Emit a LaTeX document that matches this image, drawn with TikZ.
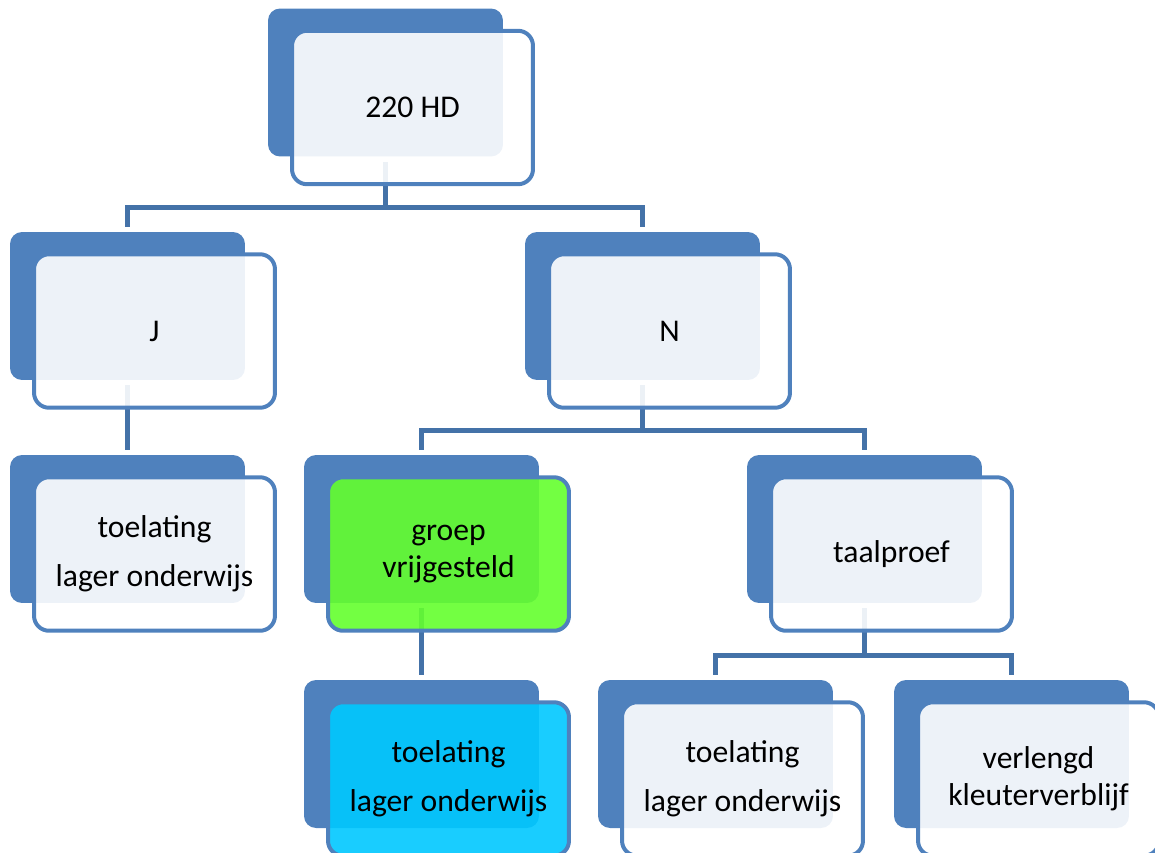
\documentclass[tikz,border=0pt]{standalone}
\usepackage{fontspec}
\setmainfont{Carlito}
\usepackage{xcolor}
\usetikzlibrary{backgrounds}

\definecolor{boxblue}{RGB}{79,129,189}
\definecolor{linkblue}{RGB}{68,114,168}
\definecolor{greenfill}{RGB}{100,255,45}
\definecolor{cyanfill}{RGB}{0,200,255}

\begin{document}
\begin{tikzpicture}[
    x=0.02cm, y=-0.02cm,
    backbox/.style={
        fill=boxblue,
        rounded corners=0.24cm,
        minimum width=4.7cm,
        minimum height=2.96cm,
        inner sep=0pt
    },
    frontbox/.style={
        draw=boxblue,
        fill=white,
        fill opacity=0.9,
        text opacity=1,
        line width=0.08cm,
        rounded corners=0.3cm,
        minimum width=4.82cm,
        minimum height=3.07cm,
        shift={(27,25)},
        align=center,
        font=\fontsize{18}{21}\selectfont
    },
    link/.style={draw=linkblue, line width=0.1cm}
]

\useasboundingbox (0,0) rectangle (1155,852);
\clip (0,0) rectangle (1155,852);

\coordinate (bus1) at (0,207);
\coordinate (bus2) at (0,430);
\coordinate (bus3) at (0,655);

\node[backbox] (hdback) at (385.5,82.5) {};
\node[frontbox] (hd) at (hdback) {220 HD};

\node[backbox] (jback) at (127.5,306) {};
\node[frontbox] (j) at (jback) {J};

\node[backbox] (nback) at (642.5,306) {};
\node[frontbox] (n) at (nback) {N};

\node[backbox] (lowback) at (127.5,529) {};
\node[frontbox] (low) at (lowback) {toelating\\[6.9pt]lager onderwijs};

\node[backbox] (groepback) at (421.5,529) {};
\node[frontbox, fill=greenfill] (groep) at (groepback) {groep\\vrijgesteld};

\node[backbox] (taalback) at (864.5,529) {};
\node[frontbox] (taal) at (taalback) {taalproef};

\node[backbox] (lowbback) at (421.5,754) {};
\node[frontbox, fill=cyanfill] (lowb) at (lowbback) {toelating\\[6.9pt]lager onderwijs};

\node[backbox] (lowcback) at (715.5,754) {};
\node[frontbox] (lowc) at (lowcback) {toelating\\[6.9pt]lager onderwijs};

\node[backbox] (verlback) at (1011.5,754) {};
\node[frontbox] (verl) at (verlback) {verlengd\\kleuterverblijf};

\begin{scope}[on background layer]
\draw[link, shorten <=0.1cm] (hdback.south) -- (hdback.south |- bus1);
\draw[link, shorten <=0.1cm, shorten >=0.1cm] (jback.north) |- (bus1 -| hdback.south) -| (nback.north);

\draw[link, shorten <=0.1cm, shorten >=0.1cm] (jback.south) -- (lowback.north);

\draw[link, shorten <=0.1cm] (nback.south) -- (nback.south |- bus2);
\draw[link, shorten <=0.1cm, shorten >=0.1cm] (groepback.north) |- (bus2 -| nback.south) -| (taalback.north);

\draw[link, shorten <=0.1cm, shorten >=0.1cm] (groepback.south) -- (lowbback.north);

\draw[link, shorten <=0.1cm] (taalback.south) -- (taalback.south |- bus3);
\draw[link, shorten <=0.1cm, shorten >=0.1cm] (lowcback.north) |- (bus3 -| taalback.south) -| (verlback.north);
\end{scope}

\end{tikzpicture}
\end{document}
